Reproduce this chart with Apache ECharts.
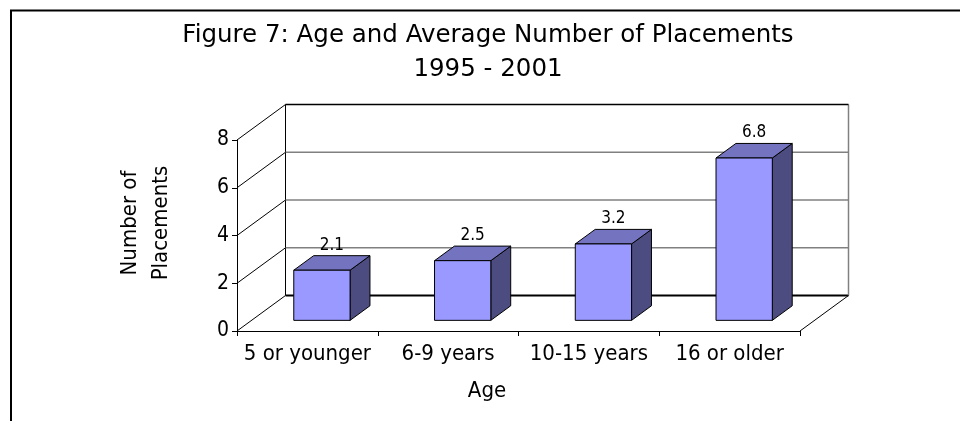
<!DOCTYPE html>
<html>
<head>
<meta charset="utf-8">
<style>
  html, body { margin: 0; padding: 0; background: #fff; }
  #chart { width: 960px; height: 421px; }
</style>
<script src="https://cdn.jsdelivr.net/npm/echarts@6/dist/echarts.min.js"></script>
</head>
<body>
<div id="chart"></div>
<script>
const categories = ['5 or younger', '6-9 years', '10-15 years', '16 or older'];
const placements = [2.1, 2.5, 3.2, 6.8];
const yTicks = [0, 2, 4, 6, 8];

const FONT = "'DejaVu Sans Condensed', 'DejaVu Sans', sans-serif";
const TITLE_FONT = "'DejaVu Sans', sans-serif";
const DEPTH = [48.5, -35.5]; // how far the back wall sits from the front plane (px)
const BAR_FRONT = 0.3, BAR_BACK = 0.71, BAR_WIDTH = 0.4;

// back wall, left wall and floor of the 3d box
function renderWalls(params, api) {
  const cs = params.coordSys;
  const xL = cs.x, xR = cs.x + cs.width;
  const v = api.value(1);
  const y = api.coord([0, v])[1];
  const y0 = api.coord([0, 0])[1];
  const dx = DEPTH[0], dy = DEPTH[1];
  const edge = v === yTicks[0] || v === yTicks[yTicks.length - 1];
  const children = [
    { type: 'line', shape: { x1: xL + dx, y1: y + dy, x2: xR + dx, y2: y + dy },
      style: { stroke: edge ? '#000' : '#808080', lineWidth: v === 0 ? 2 : 1.5 } },
    { type: 'line', shape: { x1: xL, y1: y, x2: xL + dx, y2: y + dy },
      style: { stroke: '#000', lineWidth: 1 } }
  ];
  if (params.dataIndex === 0) {
    children.push(
      { type: 'line', shape: { x1: xL + dx, y1: cs.y + dy, x2: xL + dx, y2: y0 + dy },
        style: { stroke: '#000', lineWidth: 1 } },
      { type: 'line', shape: { x1: xR + dx, y1: cs.y + dy, x2: xR + dx, y2: y0 + dy },
        style: { stroke: '#808080', lineWidth: 1.5 } },
      { type: 'line', shape: { x1: xR, y1: y0, x2: xR + dx, y2: y0 + dy },
        style: { stroke: '#000', lineWidth: 1 } }
    );
  }
  return { type: 'group', children: children };
}

function renderBar(params, api) {
  const cs = params.coordSys;
  const i = api.value(0), v = api.value(1);
  const base = api.coord([i, 0]);
  const top = api.coord([i, v]);
  const w = cs.width / categories.length * BAR_WIDTH;
  const fx = DEPTH[0] * BAR_FRONT, fy = DEPTH[1] * BAR_FRONT;
  const bx = DEPTH[0] * (BAR_BACK - BAR_FRONT), by = DEPTH[1] * (BAR_BACK - BAR_FRONT);
  const x0 = base[0] - w / 2 + fx, x1 = base[0] + w / 2 + fx;
  const yb = base[1] + fy, yt = top[1] + fy;
  const line = { stroke: '#000', lineWidth: 1, lineJoin: 'round' };
  return {
    type: 'group',
    children: [
      { type: 'polygon', shape: { points: [[x1, yt], [x1 + bx, yt + by], [x1 + bx, yb + by], [x1, yb]] },
        style: Object.assign({ fill: '#4C4C80' }, line) },
      { type: 'polygon', shape: { points: [[x0, yt], [x0 + bx, yt + by], [x1 + bx, yt + by], [x1, yt]] },
        style: Object.assign({ fill: '#7373BF' }, line) },
      { type: 'rect', shape: { x: x0, y: yt, width: x1 - x0, height: yb - yt },
        style: Object.assign({ fill: '#9999FF' }, line) },
      { type: 'text', style: { text: String(v), x: (x0 + x1) / 2 + bx / 2, y: yt + by - 2,
        align: 'center', verticalAlign: 'bottom', font: '17px ' + FONT, fill: '#000' } }
    ]
  };
}

const chart = echarts.init(document.getElementById('chart'), null, { renderer: 'canvas' });
chart.setOption({
  animation: false,
  backgroundColor: '#fff',
  title: {
    text: 'Figure 7: Age and Average Number of Placements\n1995 - 2001',
    left: 488,
    top: 19,
    textAlign: 'center',
    padding: 0,
    textStyle: { fontFamily: TITLE_FONT, fontSize: 24.5, fontWeight: 'normal', lineHeight: 34, color: '#000' }
  },
  graphic: [
    { type: 'rect', shape: { x: 11, y: 10.5, width: 1000, height: 500 },
      style: { fill: null, stroke: '#000', lineWidth: 2 }, silent: true },
    { type: 'text', x: 146, y: 223, rotation: Math.PI / 2,
      style: { text: 'Number of\nPlacements', font: '22px ' + FONT, fill: '#000',
        align: 'center', verticalAlign: 'middle', lineHeight: 31 } },
    { type: 'text', x: 487, y: 391,
      style: { text: 'Age', font: '22px ' + FONT, fill: '#000', align: 'center', verticalAlign: 'middle' } }
  ],
  grid: { left: 237, right: 160, top: 140, bottom: 90 },
  xAxis: {
    type: 'category',
    data: categories,
    axisLine: { show: true, lineStyle: { color: '#000', width: 1 } },
    axisTick: { show: true, length: 5, lineStyle: { color: '#000' } },
    axisLabel: { interval: 0, fontFamily: FONT, fontSize: 22, color: '#000', margin: 12 },
    splitLine: { show: false }
  },
  yAxis: {
    type: 'value',
    min: 0,
    max: 8,
    interval: 2,
    axisLine: { show: true, lineStyle: { color: '#000', width: 1 } },
    axisTick: { show: true, length: 5, lineStyle: { color: '#000' } },
    axisLabel: { fontFamily: FONT, fontSize: 21, color: '#000', margin: 8,
      formatter: function (v) { return yTicks.indexOf(v) >= 0 ? String(v) : ''; } },
    splitLine: { show: false }
  },
  series: [
    { type: 'custom', renderItem: renderWalls, data: yTicks.map(function (v) { return [0, v]; }),
      encode: { x: 0, y: 1 }, z: 1, silent: true },
    { type: 'custom', renderItem: renderBar, data: placements.map(function (v, i) { return [i, v]; }),
      encode: { x: 0, y: 1 }, z: 3, silent: true }
  ]
});
</script>
</body>
</html>
